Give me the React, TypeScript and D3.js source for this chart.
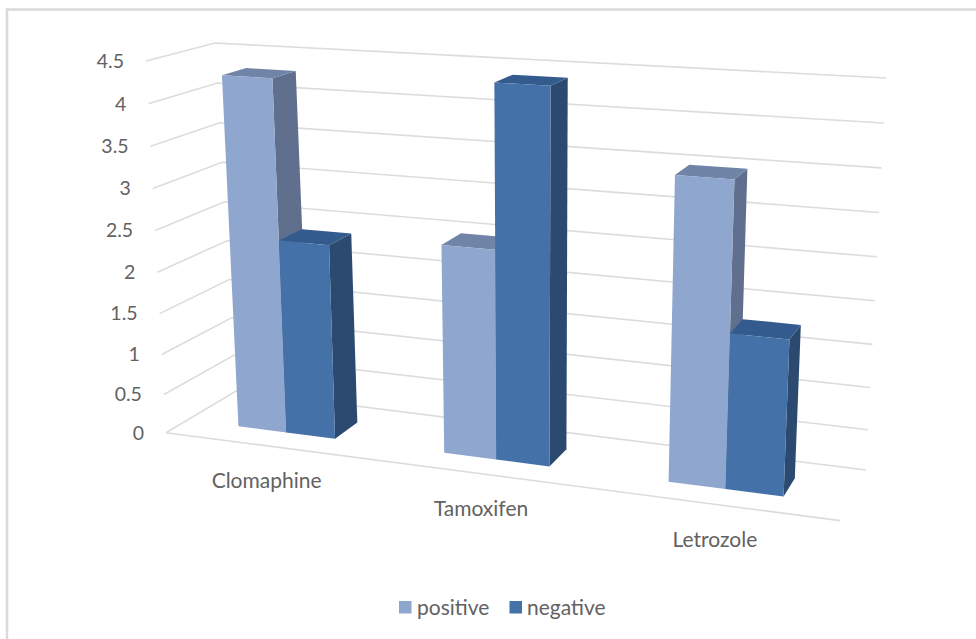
import React from "react";
import * as d3 from "d3";

// Drug groups and the two response series
const categories = ["Clomaphine", "Tamoxifen", "Letrozole"];
const seriesNames = ["positive", "negative"];
const positiveValues = [4.3, 2.5, 3.5];
const negativeValues = [2.38, 4.4, 1.8];
const valueTicks = [0, 0.5, 1, 1.5, 2, 2.5, 3, 3.5, 4, 4.5];

const WIDTH = 976;
const HEIGHT = 639;
const FONT = "Lato, 'Open Sans', sans-serif";

const seriesColors: Record<string, { front: string; top: string; side: string }> = {
  positive: { front: "#8fa6cf", top: "#7084a8", side: "#5f6f8d" },
  negative: { front: "#4471a8", top: "#335b8d", side: "#2c4a70" },
};

type Pt = [number, number];

// Screen positions of the eight corners of the plot box
const box = {
  frontLeftBottom: [166, 432.7] as Pt,
  frontLeftTop: [146, 61] as Pt,
  backLeftBottom: [236, 391] as Pt,
  backLeftTop: [215, 43] as Pt,
  backRightBottom: [866, 470] as Pt,
  backRightTop: [886, 78] as Pt,
  frontRightBottom: [840, 520.6] as Pt,
  frontRightTop: [858.5, 102] as Pt,
};

// Slight foreshortening along the value axis
const valueScale = d3.scalePow().exponent(1.036).domain([0, 4.5]).range([0, 1]);

// Category axis, with two adjacent bars inside each band
const categoryScale = d3
  .scaleBand<string>()
  .domain(categories)
  .range([0, 1])
  .paddingInner(0.52)
  .paddingOuter(0.26);
const seriesScale = d3
  .scaleBand<string>()
  .domain(seriesNames)
  .range([0, categoryScale.bandwidth()]);

// Foreshortening along the category axis
const widthPerspective = 1.14;
const foreshorten = (u: number) => u / (u + widthPerspective * (1 - u));

const mix = (a: Pt, b: Pt, t: number): Pt => [a[0] + (b[0] - a[0]) * t, a[1] + (b[1] - a[1]) * t];

// u runs left to right, value up the wall, depth from the front (0) to the back (1)
function project(u: number, value: number, depth: number): Pt {
  const g = foreshorten(u);
  const f = valueScale(value);
  const frontBottom = mix(box.frontLeftBottom, box.frontRightBottom, g);
  const frontTop = mix(box.frontLeftTop, box.frontRightTop, g);
  const backBottom = mix(box.backLeftBottom, box.backRightBottom, g);
  const backTop = mix(box.backLeftTop, box.backRightTop, g);
  return mix(mix(frontBottom, frontTop, f), mix(backBottom, backTop, f), depth);
}

const barDepthFront = 0.31;
const barDepthBack = 0.68;
const polygon = d3.line<Pt>();
const closed = (pts: Pt[]) => `${polygon(pts)}Z`;

function Bar({ category, series, value }: { category: string; series: string; value: number }) {
  const u0 = (categoryScale(category) ?? 0) + (seriesScale(series) ?? 0);
  const u1 = u0 + seriesScale.bandwidth();
  const c = seriesColors[series];
  const p = (u: number, v: number, d: number) => project(u, v, d);
  return (
    <g>
      <path
        d={closed([p(u1, 0, barDepthFront), p(u1, 0, barDepthBack), p(u1, value, barDepthBack), p(u1, value, barDepthFront)])}
        fill={c.side}
      />
      <path
        d={closed([p(u0, value, barDepthFront), p(u1, value, barDepthFront), p(u1, value, barDepthBack), p(u0, value, barDepthBack)])}
        fill={c.top}
      />
      <path
        d={closed([p(u0, 0, barDepthFront), p(u1, 0, barDepthFront), p(u1, value, barDepthFront), p(u0, value, barDepthFront)])}
        fill={c.front}
      />
    </g>
  );
}

export default function App() {
  const gridColor = "#dcdcdc";
  const textColor = "#626262";
  const tickFontSize = 19.5;
  const labelFontSize = 21;
  const bars = categories.flatMap((category, i) => [
    { category, series: "positive", value: positiveValues[i] },
    { category, series: "negative", value: negativeValues[i] },
  ]);

  return (
    <svg
      width={WIDTH}
      height={HEIGHT}
      style={{ position: "absolute", left: 0, top: 0, background: "#fff" }}
      fontFamily={FONT}
    >
      <path d={`M7,${HEIGHT}V9.5H${WIDTH}`} fill="none" stroke="#d9d9d9" strokeWidth={2.5} />

      {valueTicks.map((t) => {
        const pts = [project(0, t, 0), project(0, t, 1), project(1, t, 1)];
        const [x, y] = pts[0];
        return (
          <g key={t}>
            <path d={polygon(pts) ?? ""} fill="none" stroke={gridColor} strokeWidth={1.6} />
            <text x={x - 22} y={y} dy="0.35em" textAnchor="end" fontSize={tickFontSize} fill={textColor}>
              {t}
            </text>
          </g>
        );
      })}
      <path
        d={polygon([project(0, 0, 0), project(1, 0, 0)]) ?? ""}
        fill="none"
        stroke={gridColor}
        strokeWidth={1.6}
      />

      {bars.map((b) => (
        <Bar key={`${b.category}-${b.series}`} {...b} />
      ))}

      {categories.map((name) => {
        const [x, y] = project((categoryScale(name) ?? 0) + categoryScale.bandwidth() / 2, 0, 0);
        return (
          <text key={name} x={x} y={y + 35} dy="0.35em" textAnchor="middle" fontSize={labelFontSize} fill={textColor}>
            {name}
          </text>
        );
      })}

      <g>
        <rect x={399} y={601} width={12.5} height={12.5} fill={seriesColors.positive.front} />
        <text x={417} y={607.5} dy="0.35em" fontSize={labelFontSize} fill={textColor}>
          {seriesNames[0]}
        </text>
        <rect x={509.5} y={601} width={12.5} height={12.5} fill={seriesColors.negative.front} />
        <text x={527} y={607.5} dy="0.35em" fontSize={labelFontSize} fill={textColor}>
          {seriesNames[1]}
        </text>
      </g>
    </svg>
  );
}
